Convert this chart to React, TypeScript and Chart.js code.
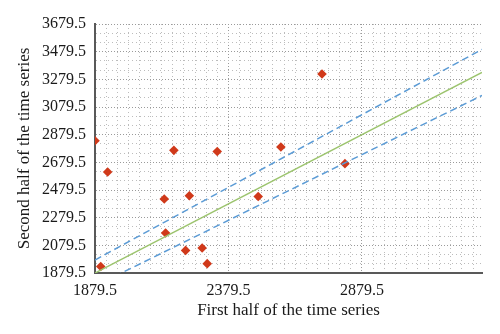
import React, { useEffect, useRef } from "react";
import { Chart, registerables } from "chart.js";

Chart.register(...registerables);

// Observations: first half (x) vs second half (y)
const pointX = [1879.5, 1927, 2175, 2337.5, 2139, 2233, 2144, 1901, 2219, 2281, 2300, 2730, 2576, 2816, 2491];
const pointY = [2836, 2610, 2766, 2758, 2414, 2438, 2169, 1927, 2043, 2060, 1947, 3318, 2790, 2670, 2433];

// Reference lines (identity, +5%, -5%)
const lineX = [1879.5, 3329.5];
const identityY = [1879.5, 3329.5];
const upperY = [1973.5, 3496];
const lowerY = [1785.5, 3163];

// Axes
const X_MIN = 1879.5;
const X_MAX = 3329.5;
const Y_MIN = 1879.5;
const Y_MAX = 3679.5;
const xMajorTicks = [1879.5, 2379.5, 2879.5];
const yMajorTicks = [1879.5, 2079.5, 2279.5, 2479.5, 2679.5, 2879.5, 3079.5, 3279.5, 3479.5, 3679.5];
const X_MINOR_PER_MAJOR = 12;
const Y_MINOR_PER_MAJOR = 3;

const xTitle = "First half of the time series";
const yTitle = "Second half of the time series";

const FONT = "'Liberation Serif', 'DejaVu Serif', serif";

function buildTicks(min: number, max: number, majors: number[], perMajor: number) {
  const step = (majors[1] - majors[0]) / perMajor;
  const out: { value: number; major: boolean }[] = [];
  for (let i = 0; ; i++) {
    const v = min + i * step;
    if (v > max + 1e-6) break;
    const isMajor = majors.some((m) => Math.abs(m - v) < 1e-6);
    out.push({ value: v, major: isMajor });
  }
  return out;
}

export default function App() {
  const ref = useRef<HTMLCanvasElement | null>(null);

  useEffect(() => {
    document.body.style.margin = "0";
    const canvas = ref.current;
    if (!canvas) return;
    const pts = pointX.map((x, i) => ({ x, y: pointY[i] }));
    const mk = (ys: number[]) => lineX.map((x, i) => ({ x, y: ys[i] }));

    const gridColor = (ctx: any) => (ctx.tick && ctx.tick.major ? "#9a9a9a" : "#bcbcbc");
    const gridDash = (ctx: any) => (ctx.tick && ctx.tick.major ? [1, 2] : [1, 3]);

    const chart = new Chart(canvas, {
      type: "scatter",
      data: {
        datasets: [
          {
            type: "line",
            label: "identity",
            data: mk(identityY),
            borderColor: "#9cc46e",
            borderWidth: 1.5,
            pointRadius: 0,
            fill: false,
          } as any,
          {
            type: "line",
            label: "upper",
            data: mk(upperY),
            borderColor: "#5b9bd5",
            borderWidth: 1.5,
            borderDash: [7, 4],
            pointRadius: 0,
            fill: false,
          } as any,
          {
            type: "line",
            label: "lower",
            data: mk(lowerY),
            borderColor: "#5b9bd5",
            borderWidth: 1.5,
            borderDash: [7, 4],
            pointRadius: 0,
            fill: false,
          } as any,
          {
            label: "observations",
            data: pts,
            pointStyle: "rectRot",
            pointRadius: 4.8,
            backgroundColor: "#d0391a",
            borderColor: "#d0391a",
            borderWidth: 0,
          },
        ],
      },
      options: {
        responsive: false,
        animation: false,
        layout: { padding: { top: 24, right: 18, left: 0, bottom: 0 } },
        plugins: { legend: { display: false }, tooltip: { enabled: false } },
        scales: {
          x: {
            type: "linear",
            min: X_MIN,
            max: X_MAX,
            afterBuildTicks: (scale: any) => {
              scale.ticks = buildTicks(X_MIN, X_MAX, xMajorTicks, X_MINOR_PER_MAJOR);
            },
            afterFit: (scale: any) => {
              scale.height = 61;
            },
            ticks: {
              autoSkip: false,
              maxRotation: 0,
              padding: 8,
              color: "#1a1a1a",
              font: { family: FONT, size: 16 },
              callback: (v: any) => {
                const n = Number(v);
                return xMajorTicks.some((m) => Math.abs(m - n) < 1e-6) ? n.toFixed(1) : "";
              },
            },
            grid: { color: gridColor, lineWidth: 1, drawTicks: false },
            border: { display: true, color: "#595959", width: 2, dash: gridDash } as any,
            title: {
              display: true,
              text: xTitle,
              color: "#1a1a1a",
              font: { family: FONT, size: 17 },
              padding: { top: 0, bottom: 12.8 },
            },
          },
          y: {
            type: "linear",
            min: Y_MIN,
            max: Y_MAX,
            afterBuildTicks: (scale: any) => {
              scale.ticks = buildTicks(Y_MIN, Y_MAX, yMajorTicks, Y_MINOR_PER_MAJOR);
            },
            afterFit: (scale: any) => {
              scale.width = 95;
            },
            ticks: {
              autoSkip: false,
              padding: 9,
              color: "#1a1a1a",
              font: { family: FONT, size: 16 },
              callback: (v: any) => {
                const n = Number(v);
                return yMajorTicks.some((m) => Math.abs(m - n) < 1e-6) ? n.toFixed(1) : "";
              },
            },
            grid: { color: gridColor, lineWidth: 1, drawTicks: false },
            border: { display: true, color: "#595959", width: 2, dash: gridDash } as any,
            title: {
              display: true,
              text: yTitle,
              color: "#1a1a1a",
              font: { family: FONT, size: 17 },
              padding: { top: 14.8, bottom: 0 },
            },
          },
        },
      } as any,
    });
    return () => chart.destroy();
  }, []);

  return (
    <div style={{ position: "absolute", left: 0, top: 0, width: 500, height: 334, background: "#fff" }}>
      <canvas ref={ref} width={500} height={334} style={{ width: 500, height: 334 }} />
    </div>
  );
}
